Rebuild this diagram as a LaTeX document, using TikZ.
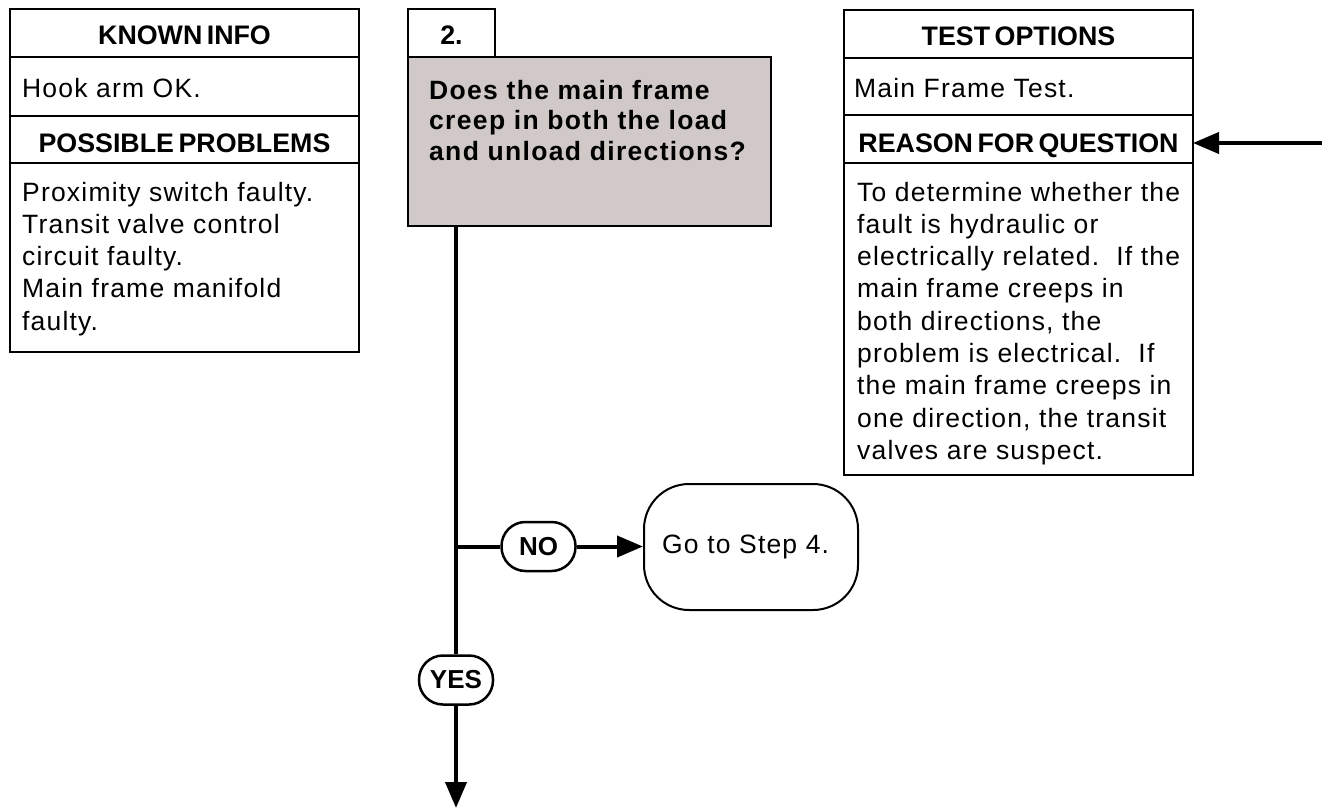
\documentclass[tikz,border=0pt]{standalone}
\usepackage{fontspec}
\setmainfont{Liberation Sans}
\newfontfamily\bodyf[LetterSpace=4.5]{Liberation Sans}
\newfontfamily\hdrf[WordSpace=0.6]{Liberation Sans}
\newfontfamily\qf[LetterSpace=5]{Liberation Sans}
\usetikzlibrary{arrows.meta}
\definecolor{qgray}{RGB}{208,201,200}
\newcommand\Ln[1]{\hbox{#1}}
\newcommand\Block[1]{\vtop{\baselineskip=32.3pt\lineskiplimit=-30pt\lineskip=0pt #1}}
\newcommand\QBlock[1]{\vtop{\baselineskip=30.5pt\lineskiplimit=-30pt\lineskip=0pt #1}}
\begin{document}
\begin{tikzpicture}[x=1pt,y=-1pt,
  cell/.style={draw, line width=2pt, anchor=north west, inner sep=0pt, outer sep=0pt},
  hdr/.style={anchor=base, inner sep=0pt, font=\hdrf\bfseries\fontsize{26.8}{30}\selectfont},
  body/.style={anchor=base west, inner sep=0pt, font=\bodyf\fontsize{26.5}{32.3}\selectfont},
  qtext/.style={anchor=base west, inner sep=0pt, font=\qf\bfseries\fontsize{26.5}{30.5}\selectfont},
  pill/.style={draw, line width=2.5pt, rounded corners=24pt, minimum width=74pt, minimum height=49pt, inner sep=0pt, font=\hdrf\bfseries\fontsize{26}{28}\selectfont},
  flow/.style={line width=4pt},
  tip/.style={-{Triangle[length=26pt,width=21pt]}}]
\useasboundingbox (0,0) rectangle (1322,809);
% left table
\node[cell, minimum width=349pt, minimum height=48pt] (kh) at (10,9) {};
\node[cell, minimum width=349pt, minimum height=59pt] (kb) at (10,57) {};
\node[cell, minimum width=349pt, minimum height=47pt] (ph) at (10,116) {};
\node[cell, minimum width=349pt, minimum height=189pt] (pb) at (10,163) {};
\node[hdr] (kht) at (184.5,44.6) {KNOWN INFO};
\node[hdr] (pht) at (184.5,152.6) {POSSIBLE PROBLEMS};
\node[body] (kbt) at (22,97) {Hook arm OK.};
\node[body] (pbt) at (22,201) {\Block{\Ln{Proximity switch faulty.}\Ln{Transit valve control}\Ln{circuit faulty.}\Ln{Main frame manifold}\Ln{faulty.}}};
% step
\node[cell, minimum width=87pt, minimum height=48pt] (sn) at (408,9) {};
\node[hdr] (snt) at (451.5,44.6) {2.};
\node[cell, fill=qgray, line width=2.5pt, minimum width=363pt, minimum height=169pt] (q) at (408,57) {};
\node[qtext] (qt) at (429,99) {\QBlock{\Ln{Does the main frame}\Ln{creep in both the load}\Ln{and unload directions?}}};
% right table
\node[cell, minimum width=349pt, minimum height=48pt] (th) at (844,10) {};
\node[cell, minimum width=349pt, minimum height=57pt] (tb) at (844,58) {};
\node[cell, minimum width=349pt, minimum height=48pt] (rh) at (844,115) {};
\node[cell, minimum width=349pt, minimum height=312pt] (rb) at (844,163) {};
\node[hdr] (tht) at (1018.5,45.6) {TEST OPTIONS};
\node[hdr] (rht) at (1018.5,152) {REASON FOR QUESTION};
\node[body] (tbt) at (854,97) {Main Frame Test.};
\node[body] (rbt) at (857,201) {\Block{\Ln{To determine whether the}\Ln{fault is hydraulic or}\Ln{electrically related.\ \ If the}\Ln{main frame creeps in}\Ln{both directions, the}\Ln{problem is electrical.\ \ If}\Ln{the main frame creeps in}\Ln{one direction, the transit}\Ln{valves are suspect.}}};
\coordinate (rin) at (1322,143);
\draw[flow, tip] (rin) -- (rh.east |- rin);
% flow
\coordinate (top) at (456,226);
\coordinate (end) at (456,808);
\node[pill] (no) at (538.5,546.5) {NO};
\node[pill] (yes) at (456,680) {YES};
\coordinate (j) at (top |- no.west);
\node[draw, line width=2pt, rounded corners=45pt, anchor=north west, minimum width=214pt, minimum height=126pt, inner sep=0pt] (go) at (643,483) {};
\node[body] (got) at (662,553) {Go to Step 4.};
\draw[flow] (top) -- (yes.north);
\draw[flow] (j) -- (no.west);
\draw[flow, tip] (no.east) -- (go.west |- no.east);
\draw[flow, tip] (yes.south) -- (end);
\end{tikzpicture}
\end{document}
